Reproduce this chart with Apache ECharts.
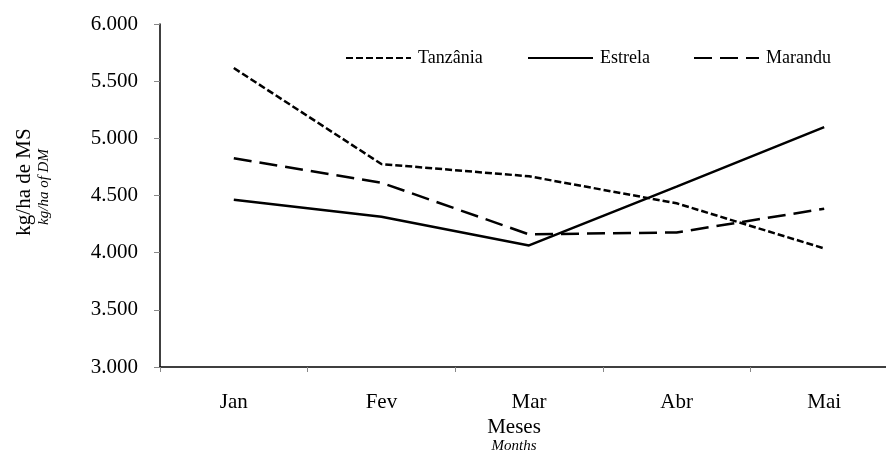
<!DOCTYPE html>
<html>
<head>
<meta charset="utf-8">
<script src="https://cdn.jsdelivr.net/npm/echarts@6/dist/echarts.min.js"></script>
<style>
  html, body { margin: 0; padding: 0; background: #fff; }
  #chart { width: 886px; height: 452px; }
</style>
</head>
<body>
<div id="chart"></div>
<script>
var months = ["Jan", "Fev", "Mar", "Abr", "Mai"];
var tanzania = [5615, 4775, 4668, 4432, 4037];
var estrela = [4463, 4314, 4063, 4578, 5098];
var marandu = [4826, 4612, 4160, 4177, 4384];

var font = "Liberation Serif";
var chart = echarts.init(document.getElementById("chart"));

function legendItem(name, left) {
  return {
    data: [name],
    left: left,
    top: 49,
    padding: 0,
    itemWidth: 65,
    itemHeight: 18,
    itemGap: 0,
    itemStyle: { opacity: 0 },
    textStyle: { fontFamily: font, fontSize: 18, color: "#000", padding: [0, 0, 0, 2] }
  };
}

function lineSeries(name, data, dash) {
  return {
    name: name,
    type: "line",
    data: data,
    symbol: "none",
    lineStyle: { color: "#000", width: 2.5, type: dash },
    itemStyle: { color: "#000" },
    animation: false
  };
}

var option = {
  backgroundColor: "#fff",
  textStyle: { fontFamily: font },
  grid: { left: 160, top: 24, width: 738, height: 343, outerBoundsMode: "none", containLabel: false },
  legend: [
    legendItem("Tanzânia", 345),
    legendItem("Estrela", 527),
    legendItem("Marandu", 693)
  ],
  xAxis: {
    type: "category",
    data: months,
    boundaryGap: true,
    axisLine: { lineStyle: { color: "#000", width: 1.5 } },
    axisTick: { show: true, length: 5, lineStyle: { color: "#888" } },
    axisLabel: { color: "#000", fontSize: 21, fontFamily: font, margin: 25 },
    splitLine: { show: false }
  },
  yAxis: {
    type: "value",
    min: 3000,
    max: 6000,
    interval: 500,
    axisLine: { show: true, lineStyle: { color: "#000", width: 1.5 } },
    axisTick: { show: true, length: 6, lineStyle: { color: "#888" } },
    axisLabel: {
      color: "#000",
      fontSize: 21,
      fontFamily: font,
      margin: 22,
      formatter: function (v) {
        return String(v).replace(/\B(?=(\d{3})+(?!\d))/g, ".");
      }
    },
    splitLine: { show: false }
  },
  graphic: [
    {
      type: "text",
      x: 24, y: 182, rotation: Math.PI / 2,
      style: { text: "kg/ha de MS", font: "21px " + font, fill: "#000", align: "center", verticalAlign: "middle" }
    },
    {
      type: "text",
      x: 44, y: 187, rotation: Math.PI / 2,
      style: { text: "kg/ha of DM", font: "italic 15px " + font, fill: "#000", align: "center", verticalAlign: "middle" }
    },
    {
      type: "text",
      x: 514, y: 427,
      style: { text: "Meses", font: "21px " + font, fill: "#000", align: "center", verticalAlign: "middle" }
    },
    {
      type: "text",
      x: 514, y: 446,
      style: { text: "Months", font: "italic 15px " + font, fill: "#000", align: "center", verticalAlign: "middle" }
    }
  ],
  series: [
    lineSeries("Tanzânia", tanzania, [7, 3]),
    lineSeries("Estrela", estrela, "solid"),
    lineSeries("Marandu", marandu, [18, 8])
  ]
};

chart.setOption(option);
</script>
</body>
</html>
